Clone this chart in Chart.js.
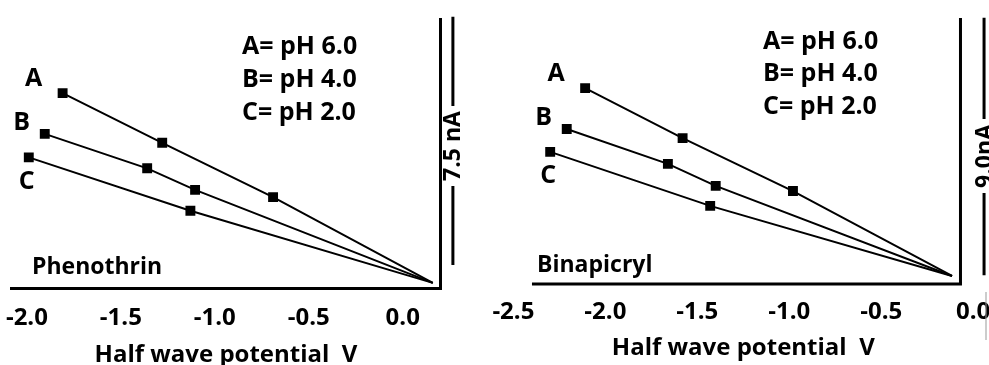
<!DOCTYPE html>
<html>
<head>
<meta charset="utf-8">
<script src="https://cdn.jsdelivr.net/npm/chart.js@4.4.0/dist/chart.umd.min.js"></script>
<style>
  html, body { margin: 0; padding: 0; background: #fff; overflow: hidden; }
  body { width: 989px; height: 365px; position: relative; }
  .panel { position: absolute; top: 0; height: 365px; }
  #left { left: 0; width: 480px; }
  #right { left: 470px; width: 540px; }
</style>
</head>
<body>
<div class="panel" id="left"><canvas id="leftChart" width="480" height="365"></canvas></div>
<div class="panel" id="right"><canvas id="rightChart" width="540" height="365"></canvas></div>
<script>
// series names and legend text
const seriesNames = ["A", "B", "C"];
const phLabels = ["A= pH 6.0", "B= pH 4.0", "C= pH 2.0"];
const xTitle = "Half wave potential  V";

// tick labels on the potential axis
const xTicksLeft = [-2.0, -1.5, -1.0, -0.5, 0.0];
const xTicksRight = [-2.5, -2.0, -1.5, -1.0, -0.5, 0.0];

// Phenothrin: half wave potential (V) vs current (nA)
const phenoA_x = [-1.81, -1.28, -0.69, 0.16];
const phenoA_y = [5.90, 4.40, 2.76, 0.17];
const phenoB_x = [-1.905, -1.36, -1.105, 0.16];
const phenoB_y = [4.67, 3.63, 2.98, 0.17];
const phenoC_x = [-1.99, -1.13, 0.16];
const phenoC_y = [3.96, 2.35, 0.17];

// Binapicryl
const binaA_x = [-2.11, -1.58, -0.98, -0.115];
const binaA_y = [6.85, 5.10, 3.25, 0.28];
const binaB_x = [-2.21, -1.66, -1.40, -0.115];
const binaB_y = [5.42, 4.20, 3.43, 0.28];
const binaC_x = [-2.30, -1.43, -0.115];
const binaC_y = [4.62, 2.73, 0.28];

// scale bars (nA)
const scaleBarLeft = 7.5;
const scaleBarRight = 9.0;

Chart.defaults.font.family = "'Open Sans', sans-serif";
Chart.defaults.font.weight = "bold";
Chart.defaults.color = "#000";

const toPoints = (xs, ys) => xs.map((x, i) => ({ x: x, y: ys[i] }));

function makeDataset(name, xs, ys) {
  return {
    label: name,
    data: toPoints(xs, ys),
    showLine: true,
    borderColor: "#000",
    borderWidth: 2,
    backgroundColor: "#000",
    pointStyle: "rect",
    pointRadius: xs.map((x, i) => (i === xs.length - 1 ? 0 : 7)),
    pointBackgroundColor: "#000",
    pointBorderWidth: 0,
    tension: 0,
  };
}

// axes frame, series letters, pH legend, compound name and the scale bar
const decorPlugin = {
  id: "decor",
  afterDraw(chart, args, o) {
    const { ctx } = chart;
    const xs = chart.scales.x;
    const ys = chart.scales.y;
    ctx.save();
    ctx.strokeStyle = "#000";
    ctx.fillStyle = "#000";

    // L shaped frame
    const y0 = ys.getPixelForValue(0);
    const xa = xs.getPixelForValue(o.axisFrom);
    const xb = xs.getPixelForValue(o.axisTo);
    ctx.lineWidth = 3;
    ctx.beginPath();
    ctx.moveTo(xa, y0);
    ctx.lineTo(xb, y0);
    ctx.moveTo(xb - 1.5, y0 + 1.5);
    ctx.lineTo(xb - 1.5, ys.getPixelForValue(ys.max));
    ctx.stroke();

    // series letters next to the first point
    ctx.font = "bold 25px 'Open Sans', sans-serif";
    ctx.textAlign = "center";
    ctx.textBaseline = "middle";
    const offs = [[-29, -14], [-23, -11], [-2, 24]];
    chart.data.datasets.forEach((ds, i) => {
      const p = ds.data[0];
      ctx.fillText(seriesNames[i], xs.getPixelForValue(p.x) + offs[i][0], ys.getPixelForValue(p.y) + offs[i][1]);
    });

    // pH legend
    ctx.textAlign = "left";
    phLabels.forEach((t, i) => {
      ctx.fillText(t, o.legendX, o.legendY[i]);
    });

    // compound name
    ctx.font = "bold 23px 'Open Sans', sans-serif";
    ctx.fillText(o.name, o.nameX, o.nameY);

    // current scale bar
    const bx = xs.getPixelForValue(o.barX);
    const top = ys.getPixelForValue(o.barFrom + o.barLen);
    const bot = ys.getPixelForValue(o.barFrom);
    const label = o.barText;
    const tw = ctx.measureText(label).width;
    const gapTop = o.barTextY - tw / 2 - 5;
    const gapBot = o.barTextY + tw / 2 + 5;
    ctx.lineWidth = 3;
    ctx.beginPath();
    ctx.moveTo(bx, top);
    ctx.lineTo(bx, gapTop);
    ctx.moveTo(bx, gapBot);
    ctx.lineTo(bx, bot);
    ctx.stroke();
    ctx.translate(bx, o.barTextY);
    ctx.rotate(-Math.PI / 2);
    ctx.textAlign = "center";
    ctx.fillText(label, 0, 1);
    ctx.restore();

    if (o.edgeLine) {
      ctx.save();
      ctx.strokeStyle = "#999";
      ctx.lineWidth = 1;
      ctx.beginPath();
      ctx.moveTo(o.edgeLine[0], o.edgeLine[1]);
      ctx.lineTo(o.edgeLine[0], o.edgeLine[2]);
      ctx.stroke();
      ctx.restore();
    }
  },
};

function makeChart(id, cfg) {
  return new Chart(document.getElementById(id), {
    type: "scatter",
    data: { datasets: cfg.datasets },
    options: {
      responsive: false,
      animation: false,
      layout: { padding: cfg.padding },
      plugins: {
        legend: { display: false },
        tooltip: { enabled: false },
        decor: cfg.decor,
      },
      scales: {
        x: {
          type: "linear",
          min: cfg.xMin,
          max: cfg.xMax,
          afterBuildTicks: (scale) => {
            scale.ticks = cfg.ticks.map((v) => ({ value: v }));
          },
          afterFit: (scale) => {
            scale.height = cfg.axisHeight;
            scale.paddingLeft = 0;
            scale.paddingRight = 0;
          },
          ticks: {
            font: { size: 24, weight: "bold" },
            padding: cfg.tickPad,
            maxRotation: 0,
            autoSkip: false,
            callback: (v) => Number(v).toFixed(1),
          },
          grid: { display: false, drawTicks: false },
          border: { display: false },
          title: {
            display: true,
            text: xTitle,
            font: { size: 24, weight: "bold", lineHeight: 0.8 },
            padding: cfg.titlePad,
          },
        },
        y: { display: false, min: 0, max: cfg.yMax },
      },
    },
    plugins: [decorPlugin],
  });
}

makeChart("leftChart", {
  datasets: [
    makeDataset("A", phenoA_x, phenoA_y),
    makeDataset("B", phenoB_x, phenoB_y),
    makeDataset("C", phenoC_x, phenoC_y),
  ],
  padding: { left: 10, right: 38, top: 18, bottom: 0 },
  xMin: -2.09,
  xMax: 0.209,
  yMax: 8.17,
  ticks: xTicksLeft,
  axisHeight: 76.5,
  tickPad: 15,
  titlePad: { top: 0, bottom: 0 },
  decor: {
    axisFrom: -2.09, axisTo: 0.209,
    legendX: 242, legendY: [47, 80, 113],
    name: "Phenothrin", nameX: 32, nameY: 267,
    barX: 0.267, barFrom: 0.71, barLen: scaleBarLeft, barText: "7.5 nA", barTextY: 146,
  },
});

makeChart("rightChart", {
  datasets: [
    makeDataset("A", binaA_x, binaA_y),
    makeDataset("B", binaB_x, binaB_y),
    makeDataset("C", binaC_x, binaC_y),
  ],
  padding: { left: 43.4, right: 36.8, top: 18, bottom: 0 },
  xMin: -2.5,
  xMax: 0.0,
  yMax: 9.30,
  ticks: xTicksRight,
  axisHeight: 81,
  tickPad: 13.6,
  titlePad: { top: 0, bottom: 7.4 },
  decor: {
    axisFrom: -2.399, axisTo: -0.061,
    legendX: 293, legendY: [42, 74, 107],
    name: "Binapicryl", nameX: 67, nameY: 265,
    barX: 0.059, barFrom: 0.31, barLen: scaleBarRight, barText: "9.0nA", barTextY: 156,
    edgeLine: [516, 292, 340],
  },
});
</script>
</body>
</html>
